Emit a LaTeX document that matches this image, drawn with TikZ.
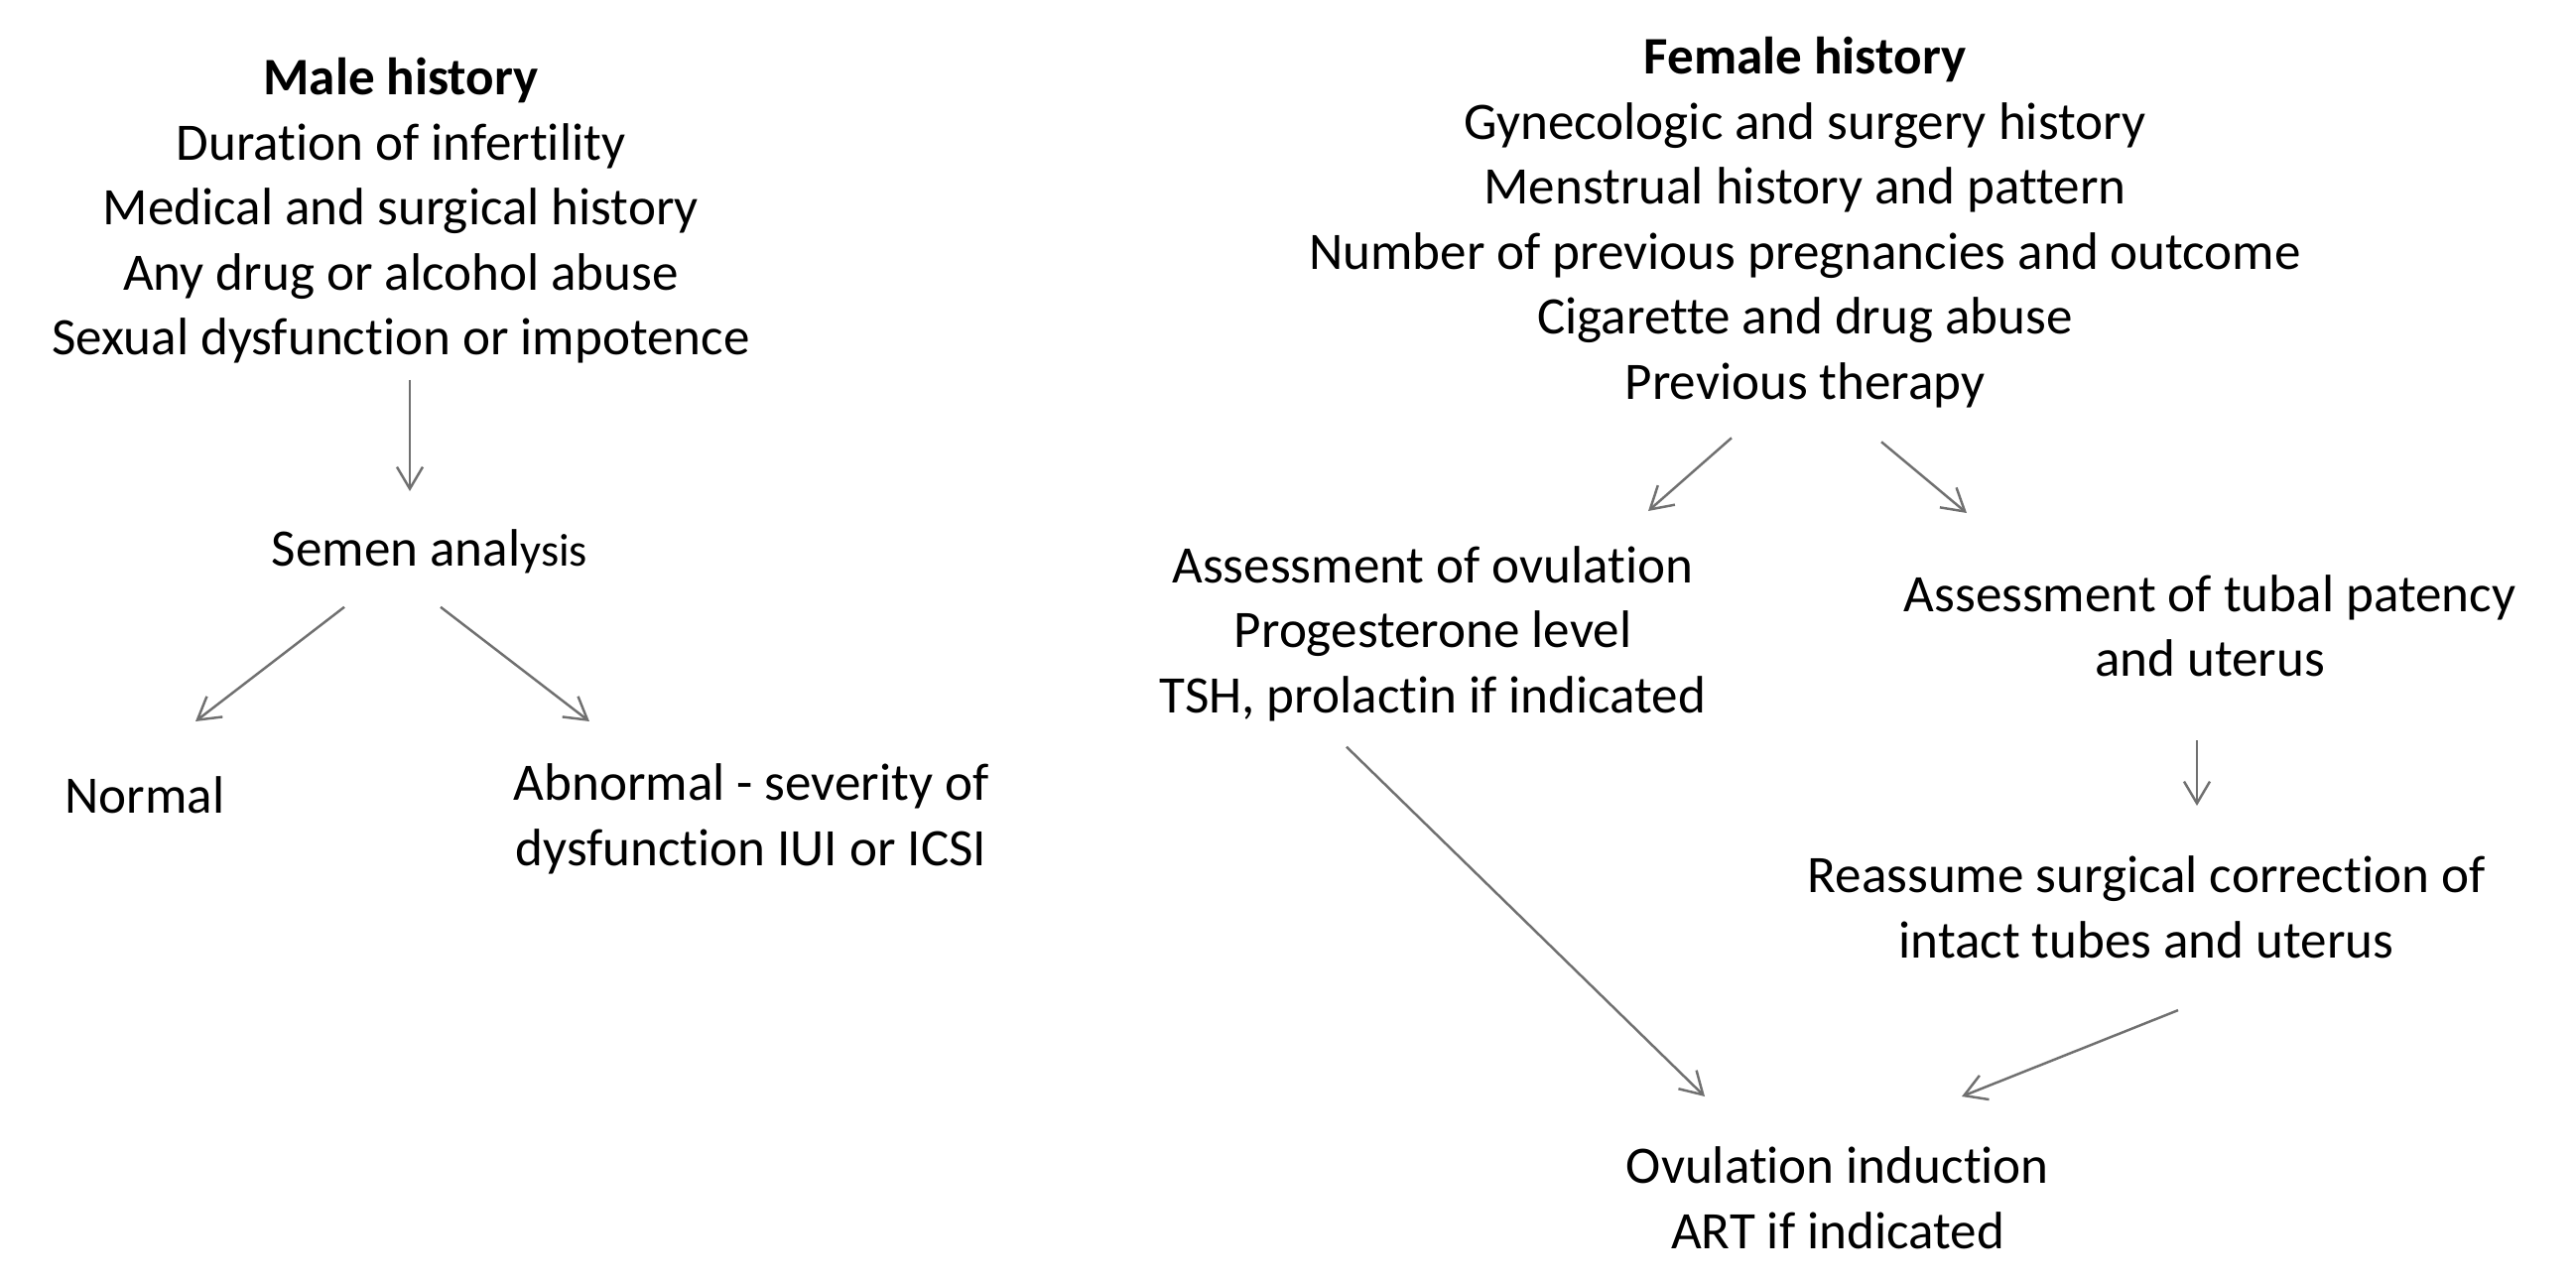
\documentclass[tikz,border=0pt]{standalone}
\usepackage{fontspec}
\setmainfont{Carlito}[Ligatures={NoCommon,NoContextual}]
\usepackage{tikz}
\usetikzlibrary{arrows.meta, positioning, calc}
\definecolor{arrgray}{RGB}{112,112,112}

\tikzset{
    txt/.style={align=center, inner sep=0pt, anchor=north, font=\fontsize{15.1}{18.6}\selectfont},
    arr/.style={-{Straight Barb[length=2.2mm,width=2.6mm]}, draw=arrgray, line width=0.7pt}
}

\begin{document}
\begin{tikzpicture}[x=0.01cm, y=-0.01cm]
    \useasboundingbox (0,0) rectangle (2596,1293);

    \node[txt] (male) at (404,58) {\textbf{Male history}\\Duration of infertility\\Medical and surgical history\\Any drug or alcohol abuse\\Sexual dysfunction or impotence};
    \node[txt] (semen) at (433,533) {Semen anal{\fontsize{13.2}{16}\selectfont ysis}};
    \node[txt] (normal) at (146,782) {Normal};
    \node[txt] (abnormal) at (757,769) {Abnormal - severity of\\dysfunction IUI or ICSI};

    \node[txt] (female) at (1819,37) {\textbf{Female history}\\Gynecologic and surgery history\\Menstrual history and pattern\\Number of previous pregnancies and outcome\\Cigarette and drug abuse\\Previous therapy};
    \node[txt] (ovul) at (1444,550) {Assessment of ovulation\\Progesterone level\\TSH, prolactin if indicated};
    \node[txt] (tubal) at (2227,579) {Assessment of tubal patency\\and uterus};
    \node[txt] (reassume) at (2163,862) {Reassume surgical correction of\\intact tubes and uterus};
    \node[txt] (induction) at (1852,1155) {Ovulation induction\\ART if indicated};

    \path
        ($(male.south)+(9,16)$) edge[arr] ($(semen.north)+(-20,-38)$)
        ($(semen.south)+(-86,33)$) edge[arr] ($(normal.north)+(51,-55)$)
        ($(semen.south)+(11,33)$) edge[arr] ($(abnormal.north)+(-163,-42)$)
        ($(female.south)+(-74,30)$) edge[arr] ($(ovul.north)+(217,-35)$)
        ($(female.south)+(77,34)$) edge[arr] ($(tubal.north)+(-245,-62)$)
        ($(tubal.south)+(-13,63)$) edge[arr] ($(reassume.north)+(51,-50)$)
        ($(ovul.south)+(-87,25)$) edge[arr] ($(induction.north)+(-134,-50)$)
        ($(reassume.south)+(32,52)$) edge[arr] ($(induction.north)+(125,-50)$)
        ;
\end{tikzpicture}
\end{document}
